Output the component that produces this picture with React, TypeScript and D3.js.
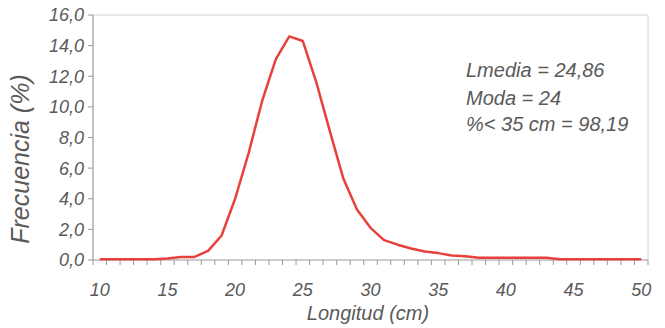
import React from "react";
import * as d3 from "d3";

const lengths = [10, 11, 12, 13, 14, 15, 16, 17, 18, 19, 20, 21, 22, 23, 24, 25, 26, 27, 28, 29, 30, 31, 32, 33, 34, 35, 36, 37, 38, 39, 40, 41, 42, 43, 44, 45, 46, 47, 48, 49, 50];
const frequency = [0.05, 0.05, 0.05, 0.05, 0.05, 0.1, 0.2, 0.2, 0.6, 1.6, 4.0, 7.0, 10.4, 13.1, 14.6, 14.3, 11.6, 8.4, 5.3, 3.3, 2.1, 1.3, 1.0, 0.75, 0.55, 0.45, 0.3, 0.25, 0.15, 0.15, 0.15, 0.15, 0.15, 0.15, 0.05, 0.05, 0.05, 0.05, 0.05, 0.05, 0.05];
const xTickLabels = [10, 15, 20, 25, 30, 35, 40, 45, 50];
const yTickValues = [0, 2, 4, 6, 8, 10, 12, 14, 16];
const annotations = ["Lmedia = 24,86", "Moda = 24", "%< 35 cm = 98,19"];

const W = 665, H = 328;
const left = 93, right = 648, top = 15, bottom = 260;
const FONT = "'Liberation Sans', Arial, sans-serif";
const TEXT = "#5a5a5a";
const AXIS = "#9a9a9a";

export default function App() {
  const x = d3.scaleLinear().domain([9.5, 50.5]).range([left, right]);
  const y = d3.scaleLinear().domain([0, 16]).range([bottom, top]);
  const line = d3.line<number>().x((_, i) => x(lengths[i])).y((d) => y(d));
  const fmt = (v: number) => d3.format(".1f")(v).replace(".", ",");
  const minor = d3.range(9.5, 51, 1);
  const annotY = [77, 105, 131];

  return (
    <svg width={W} height={H} style={{ position: "absolute", left: 0, top: 0, background: "#fff" }}>
      {/* plot border */}
      <line x1={left} x2={right} y1={top} y2={top} stroke="#d4d4d4" strokeWidth={1} />
      <line x1={right} x2={right} y1={top} y2={bottom} stroke="#d4d4d4" strokeWidth={1} />
      {/* y axis */}
      <line x1={left} x2={left} y1={top} y2={bottom} stroke={AXIS} strokeWidth={1.2} />
      {yTickValues.map((v) => (
        <g key={v}>
          <line x1={left - 5} x2={left} y1={y(v)} y2={y(v)} stroke={AXIS} />
          <text x={84} y={y(v)} dy="0.36em" textAnchor="end" fontFamily={FONT} fontStyle="italic" fontSize={18} fill={TEXT}>
            {fmt(v)}
          </text>
        </g>
      ))}
      {/* x axis */}
      <line x1={left} x2={right} y1={bottom} y2={bottom} stroke={AXIS} strokeWidth={1.2} />
      {minor.map((v) => (
        <line key={v} x1={x(v)} x2={x(v)} y1={bottom} y2={bottom + 5} stroke={AXIS} />
      ))}
      {xTickLabels.map((v) => (
        <text key={v} x={x(v)} y={296} textAnchor="middle" fontFamily={FONT} fontStyle="italic" fontSize={18} fill={TEXT}>
          {v}
        </text>
      ))}
      {/* line */}
      <path d={line(frequency) || ""} fill="none" stroke="#e8413b" strokeWidth={2.5} strokeLinejoin="round" />
      {/* titles */}
      <text x={368} y={320} textAnchor="middle" fontFamily={FONT} fontStyle="italic" fontSize={20} fill={TEXT}>
        Longitud (cm)
      </text>
      <text transform="translate(29,159) rotate(-90)" textAnchor="middle" fontFamily={FONT} fontStyle="italic" fontSize={25} fill={TEXT}>
        Frecuencia (%)
      </text>
      {annotations.map((t, i) => (
        <text key={t} x={466} y={annotY[i]} fontFamily={FONT} fontStyle="italic" fontSize={20} fill={TEXT}>
          {t}
        </text>
      ))}
    </svg>
  );
}
